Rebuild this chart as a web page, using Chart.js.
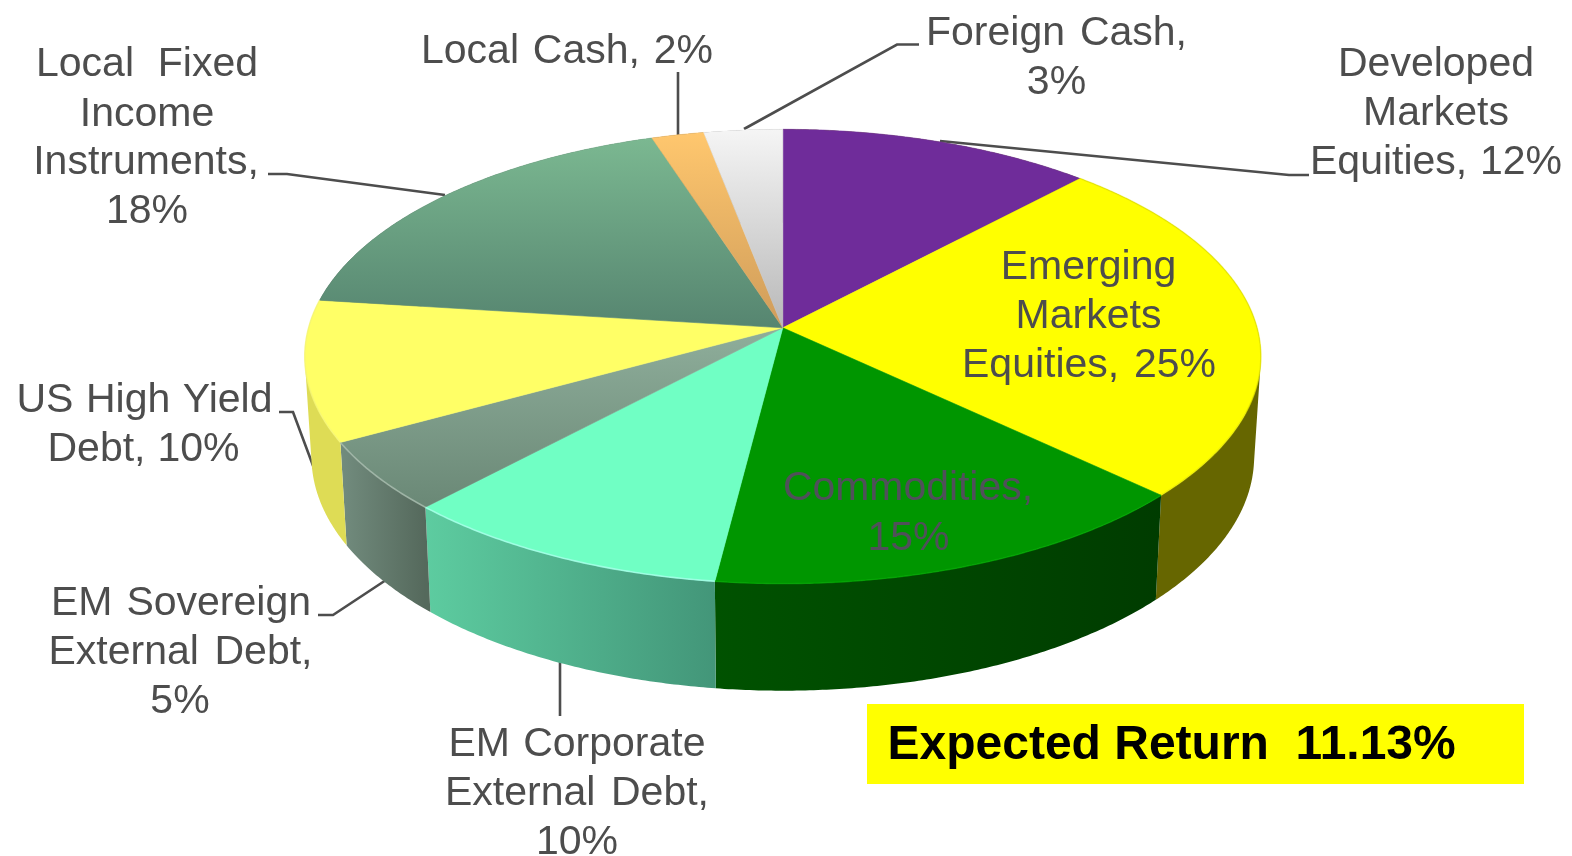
<!DOCTYPE html>
<html>
<head>
<meta charset="utf-8">
<style>html,body{margin:0;padding:0;background:#fff}canvas{display:block}</style>
<script src="https://cdn.jsdelivr.net/npm/chart.js@4"></script>
</head>
<body>
<canvas id="c" width="1572" height="856"></canvas>
<script>
// ---- data ----
const categories = ["Developed Markets Equities","Emerging Markets Equities","Commodities","US High Yield Debt","EM Sovereign External Debt","EM Corporate External Debt","Local Fixed Income Instruments","Local Cash","Foreign Cash"];
// drawn clockwise from 12 o'clock, in the order seen in the picture
const sliceOrder = ["Developed Markets Equities","Emerging Markets Equities","Commodities","EM Corporate External Debt","EM Sovereign External Debt","US High Yield Debt","Local Fixed Income Instruments","Local Cash","Foreign Cash"];
const shares = [12,25,15,10,5,10,18,2,3];
const expectedReturn = "Expected Return  11.13%";

// ---- styles ----
const faceTop    = ["#6F2C9A","#FFFF00","#009600","#70FFC4","#8FAE9B","#FFFF66","#7BB891","#FFC76E","#F5F5F5"];
const faceBottom = ["#6F2C9A","#FFFF00","#009600","#70FFC4","#6A8876","#FFFF66","#568570","#CF9C5A","#B8B8B8"];
const wallLeft   = ["#666600","#666600","#005200","#5DCCA0","#728C7E","#DEDC55","#444","#444","#444"];
const wallRight  = ["#666600","#666600","#003C00","#439679","#55695C","#DEDC55","#444","#444","#444"];
const rimColor   = ["","#D8D800","#00A600","#A8FFEA","#A8BBAE","#F4F47A","","",""];
const rimAlpha   = [0,0.4,0.7,0.8,0.8,0.6,0,0,0];
const textColor = "#4D4D4D";
const leaderColor = "#4D4D4D";

// ---- projection of the tilted disc ----
const cx = 782.8, cy = 327.8;
const tilt = 0.126, sx = 474.2, sy = 223.5;
function project(theta, t){
  const u = Math.sin(theta)*t, v = Math.cos(theta)*t, w = 1 + tilt*v;
  return [cx + sx*u/w, cy - sy*v/w];
}
function lower(p){ return [cx + (p[0]-cx)*0.986, cy + (p[1]-cy)*1.03 + 99.5]; }

// ---- annotation layout ----
const labelLines = [
  {t:"Foreign Cash,",x:1056.5,y:45,w:261},{t:"3%",x:1056.5,y:94},
  {t:"Developed",x:1436,y:76},{t:"Markets",x:1436,y:125},{t:"Equities, 12%",x:1436,y:174,w:252},
  {t:"Emerging",x:1088.5,y:279},{t:"Markets",x:1088.5,y:328},{t:"Equities, 25%",x:1089,y:377,w:254},
  {t:"Commodities,",x:908,y:500,c:"#50505A",w:250},{t:"15%",x:908.5,y:550,c:"#50505A"},
  {t:"Local Fixed",x:147,y:76,w:222},{t:"Income",x:147,y:126},{t:"Instruments,",x:146,y:174},{t:"18%",x:147,y:223},
  {t:"Local Cash, 2%",x:567,y:63,w:292},
  {t:"US High Yield",x:144.5,y:412,w:256},{t:"Debt, 10%",x:143.5,y:461,w:192},
  {t:"EM Sovereign",x:181,y:615,w:260},{t:"External Debt,",x:180.5,y:664,w:264},{t:"5%",x:180,y:713},
  {t:"EM Corporate",x:577,y:756,w:257},{t:"External Debt,",x:577,y:805,w:264},{t:"10%",x:577,y:854}
];
const leaderPaths = [
  [[940,141],[1289,175],[1309,175]],
  [[744,129],[897,44.5],[919,44.5]],
  [[678,72],[678,135]],
  [[268,174],[287,174],[445,195]],
  [[279,412],[293,412],[315,471]],
  [[318,615],[333,615],[386,580]],
  [[560,662],[560,716]]
];

const pie3d = {
  id:"pie3d",
  beforeDatasetDraw(){ return false; },
  afterDatasetsDraw(chart){
    const ctx = chart.ctx, arcs = chart.getDatasetMeta(0).data;
    const rim = arcs.map(a=>{
      const a0 = a.startAngle + Math.PI/2, a1 = a.endAngle + Math.PI/2;
      const n = Math.max(4, Math.ceil((a1-a0)/0.008)), pts = [];
      for(let i=0;i<=n;i++) pts.push(project(a0+(a1-a0)*i/n, 1));
      return pts;
    });
    // leaders behind the pie
    ctx.strokeStyle = leaderColor; ctx.lineWidth = 2.6; ctx.lineJoin = "miter";
    leaderPaths.forEach(p=>{ ctx.beginPath(); p.forEach((q,i)=>i?ctx.lineTo(q[0],q[1]):ctx.moveTo(q[0],q[1])); ctx.stroke(); });
    // outer walls: one quad per rim step, all wound the same way
    rim.forEach((pts,i)=>{
      const low = pts.map(lower);
      const xs = pts.map(p=>p[0]);
      const g = ctx.createLinearGradient(Math.min(...xs),0,Math.max(...xs),0);
      g.addColorStop(0,wallLeft[i]); g.addColorStop(1,wallRight[i]);
      ctx.beginPath();
      for(let k=0;k<pts.length-1;k++){
        let q = [pts[k],pts[k+1],low[k+1],low[k]], area = 0;
        for(let j=0;j<4;j++){ const a=q[j], b=q[(j+1)%4]; area += a[0]*b[1]-b[0]*a[1]; }
        if(area<0) q.reverse();
        ctx.moveTo(q[0][0],q[0][1]);
        for(let j=1;j<4;j++) ctx.lineTo(q[j][0],q[j][1]);
        ctx.closePath();
      }
      ctx.fillStyle = g; ctx.fill("nonzero");
    });
    // top faces
    rim.forEach((pts,i)=>{
      const ys = pts.map(p=>p[1]).concat(cy);
      const g = ctx.createLinearGradient(0,Math.min(...ys),0,Math.max(...ys));
      g.addColorStop(0,faceTop[i]); g.addColorStop(1,faceBottom[i]);
      ctx.beginPath(); ctx.moveTo(cx,cy);
      pts.forEach(p=>ctx.lineTo(p[0],p[1]));
      ctx.closePath();
      ctx.fillStyle = g; ctx.fill();
      ctx.strokeStyle = g; ctx.lineWidth = 0.6; ctx.lineJoin = "round"; ctx.stroke();
    });
    // bevel on the front rim
    rim.forEach((pts,i)=>{
      if(!rimColor[i]) return;
      ctx.beginPath();
      pts.forEach((p,k)=>k?ctx.lineTo(p[0],p[1]):ctx.moveTo(p[0],p[1]));
      ctx.strokeStyle = rimColor[i]; ctx.lineWidth = 1.6; ctx.globalAlpha = rimAlpha[i]; ctx.stroke(); ctx.globalAlpha = 1;
    });
    // text
    ctx.textBaseline = "alphabetic"; ctx.textAlign = "center";
    ctx.font = "41px 'Liberation Sans', Arial, sans-serif";
    labelLines.forEach(l=>{
      ctx.fillStyle = l.c || textColor;
      ctx.wordSpacing = "0px";
      if(l.w){
        const m = ctx.measureText(l.t).width, sp = (l.t.match(/ /g)||[]).length;
        if(sp){ ctx.wordSpacing = ((l.w-m)/sp).toFixed(2)+"px"; ctx.fillText(l.t,l.x,l.y); }
        else { ctx.save(); ctx.translate(l.x,l.y); ctx.scale(l.w/m,1); ctx.fillText(l.t,0,0); ctx.restore(); }
      } else ctx.fillText(l.t,l.x,l.y);
    });
    ctx.wordSpacing = "0px";
    // expected return box
    ctx.fillStyle = "#FFFF00"; ctx.fillRect(867,704,657,80);
    ctx.fillStyle = "#000"; ctx.textAlign = "left";
    ctx.font = "bold 48px 'Liberation Sans', Arial, sans-serif";
    ctx.fillText(expectedReturn,887.5,759);
  }
};

const sliceValues = sliceOrder.map(n=>shares[categories.indexOf(n)]);
new Chart(document.getElementById("c"),{
  type:"pie",
  data:{labels:sliceOrder,datasets:[{data:sliceValues,backgroundColor:faceTop,borderWidth:0}]},
  options:{responsive:false,animation:false,events:[],layout:{padding:0},
    plugins:{legend:{display:false},tooltip:{enabled:false},title:{display:false}}},
  plugins:[pie3d]
});
</script>
</body>
</html>
